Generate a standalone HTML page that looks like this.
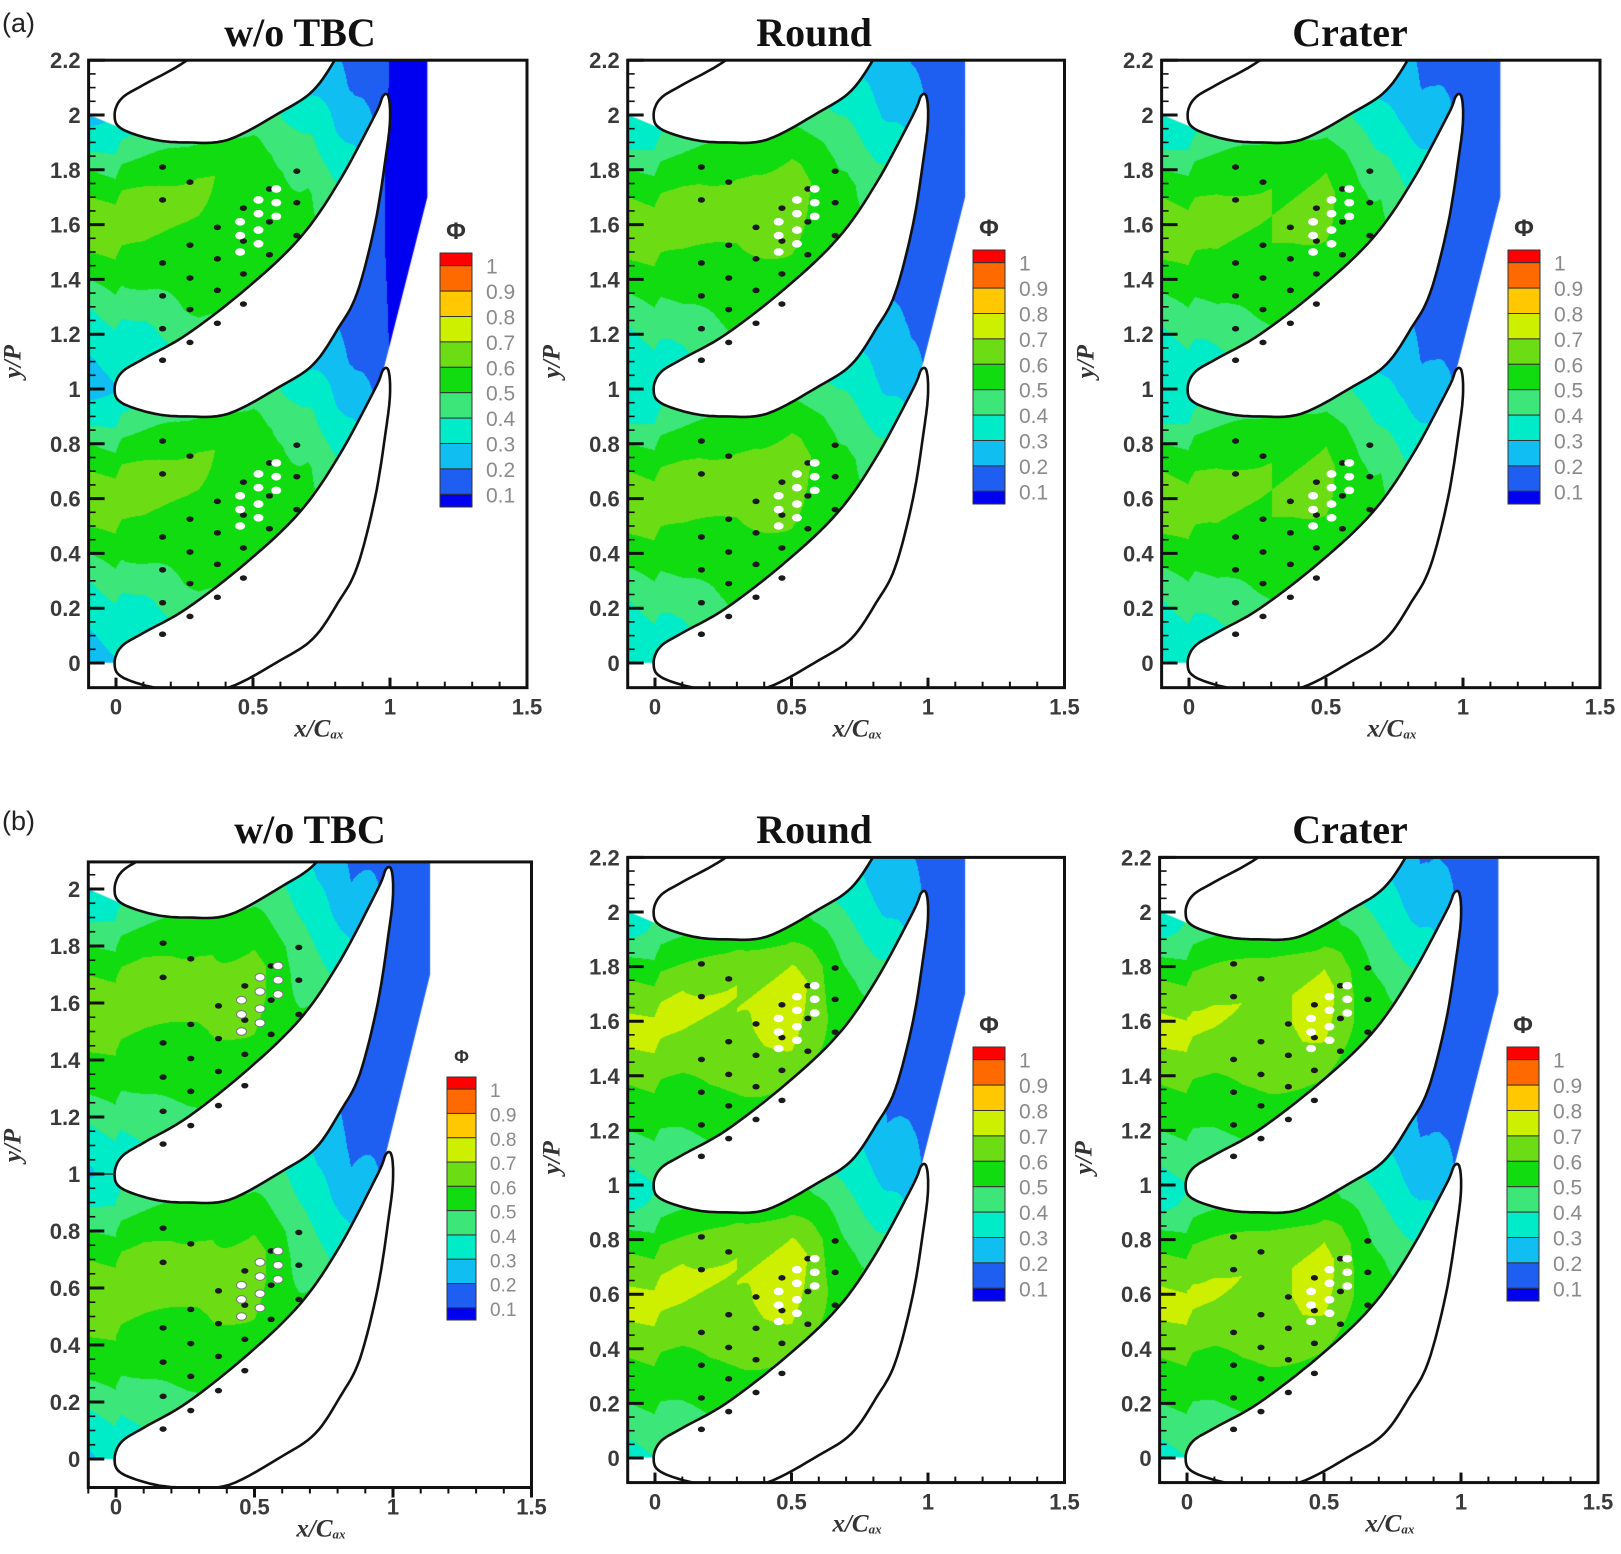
<!DOCTYPE html>
<html style="overflow:hidden"><head><meta charset="utf-8">
<style>
html,body{margin:0;overflow:hidden}
body{width:1621px;height:1554px;position:relative;background:#fff;font-family:"Liberation Sans",sans-serif}
canvas{position:absolute}
#ov{position:absolute;left:0;top:0}
#cv{position:absolute;left:0;top:0;width:0;height:0}
</style></head>
<body>
<div id="cv"></div>
<svg id="ov" width="1621" height="1554" xmlns="http://www.w3.org/2000/svg"></svg>
<script>
// ---- data ----
const XN=[-0.1,0.1,0.3,0.5,0.7,0.85,1.0,1.15];
const TN=[0,0.1,0.2,0.3,0.4,0.5,0.6,0.7,0.8,0.9];
const LEVELS=[0.1,0.2,0.3,0.4,0.5,0.6,0.7,0.8,0.9,1.0];
const LEVEL_LABELS=['1','0.9','0.8','0.7','0.6','0.5','0.4','0.3','0.2','0.1'];
const XTICKS=[0,0.5,1,1.5];
const YTICKS_A=[0,0.2,0.4,0.6,0.8,1,1.2,1.4,1.6,1.8,2,2.2];
const YTICKS_B1=[0,0.2,0.4,0.6,0.8,1,1.2,1.4,1.6,1.8,2];
const fieldA1=[[.26,.29,.33,.4,.5,.6,.7,.6,.5,.35],[.33,.37,.45,.55,.58,.65,.62,.55,.42,.35],[.48,.55,.57,.58,.6,.63,.55,.47,.45,.4],[.55,.57,.58,.58,.57,.53,.45,.4,.4,.4],[.53,.52,.47,.43,.36,.28,.3,.3,.3,.4],[.35,.28,.22,.19,.17,.16,.16,.16,.17,.25],[.09,.09,.09,.09,.09,.09,.09,.09,.09,.09],[.05,.05,.05,.05,.05,.05,.05,.05,.05,.05]];
const fieldA2=[[.3,.33,.38,.45,.55,.62,.66,.6,.5,.36],[.38,.42,.5,.56,.6,.64,.62,.55,.45,.38],[.52,.56,.58,.6,.62,.62,.56,.5,.45,.4],[.56,.6,.64,.68,.64,.56,.48,.42,.4,.4],[.55,.55,.5,.45,.4,.33,.3,.3,.3,.4],[.4,.33,.27,.24,.22,.2,.2,.2,.21,.3],[.17,.16,.15,.15,.15,.15,.15,.15,.15,.16],[.13,.13,.13,.13,.13,.13,.13,.13,.13,.13]];
const fieldA3=[[.3,.33,.38,.45,.55,.62,.65,.6,.5,.36],[.38,.42,.5,.56,.6,.63,.6,.55,.45,.38],[.5,.55,.57,.6,.6,.6,.55,.48,.45,.4],[.55,.58,.62,.64,.6,.52,.45,.4,.4,.4],[.52,.5,.45,.38,.33,.28,.3,.3,.3,.4],[.33,.27,.22,.19,.18,.17,.17,.17,.18,.27],[.15,.15,.15,.15,.15,.15,.15,.15,.15,.15],[.15,.15,.15,.15,.15,.15,.15,.15,.15,.15]];
const fieldB1=[[.28,.33,.42,.52,.58,.65,.66,.6,.5,.38],[.4,.45,.52,.56,.6,.66,.64,.56,.46,.4],[.5,.55,.58,.6,.62,.62,.56,.5,.45,.4],[.56,.6,.65,.66,.6,.54,.46,.4,.4,.4],[.5,.46,.42,.38,.33,.3,.3,.3,.3,.4],[.3,.25,.2,.18,.17,.16,.16,.16,.17,.25],[.15,.15,.15,.15,.15,.15,.15,.15,.15,.15],[.15,.15,.15,.15,.15,.15,.15,.15,.15,.15]];
const fieldB2=[[.35,.42,.5,.56,.62,.7,.72,.65,.55,.4],[.45,.5,.56,.6,.66,.73,.7,.6,.5,.42],[.56,.6,.64,.66,.7,.7,.62,.55,.5,.45],[.62,.7,.76,.8,.72,.6,.5,.45,.45,.45],[.58,.55,.5,.45,.4,.35,.35,.35,.35,.45],[.4,.33,.27,.23,.2,.19,.19,.19,.2,.3],[.16,.16,.16,.16,.16,.16,.16,.16,.16,.16],[.16,.16,.16,.16,.16,.16,.16,.16,.16,.16]];
const fieldB3=[[.35,.42,.5,.56,.62,.7,.72,.65,.55,.4],[.45,.5,.56,.6,.66,.72,.68,.6,.5,.42],[.55,.6,.64,.66,.7,.68,.6,.55,.5,.45],[.6,.68,.74,.76,.7,.58,.5,.45,.45,.45],[.56,.53,.48,.43,.38,.33,.33,.33,.33,.45],[.38,.31,.25,.21,.19,.18,.18,.18,.19,.28],[.16,.16,.16,.16,.16,.16,.16,.16,.16,.16],[.16,.16,.16,.16,.16,.16,.16,.16,.16,.16]];
const DOTS_X=[0.17,0.17,0.17,0.17,0.17,0.17,0.27,0.27,0.27,0.27,0.27,0.37,0.37,0.37,0.37,0.465,0.465,0.465,0.465,0.56,0.56,0.56,0.66,0.66,0.66];
const DOTS_Y=[0.81,0.69,0.46,0.34,0.22,0.105,0.755,0.525,0.405,0.29,0.17,0.59,0.475,0.36,0.24,0.66,0.54,0.42,0.31,0.73,0.61,0.49,0.795,0.68,0.56];
const HOLES_X=[0.453,0.453,0.453,0.52,0.52,0.52,0.52,0.585,0.585,0.585];
const HOLES_Y=[0.61,0.56,0.50,0.69,0.64,0.58,0.53,0.73,0.68,0.63];
// ---- geometry (blade profile, relative to nose) ----
const PRESS=[[-0.005,0],[0.02,0.06],[0.1,0.11],[0.26,0.2],[0.48,0.37],[0.67,0.55],[0.81,0.75],[0.945,1.0],[0.975,1.07]];
const SUCT=[[0.995,1.065],[1.0,0.98],[0.985,0.85],[0.945,0.6],[0.88,0.35],[0.81,0.22],[0.72,0.09],[0.6,0.01],[0.41,-0.09],[0.26,-0.1],[0.14,-0.09],[0.02,-0.05]];
const COLORS=['#0000f0','#1e5ef0','#10bef2','#00ecc8','#3ce678','#10dc10','#6cdc14','#ccf000','#ffc800','#ff6a00','#ff0000'];
const PANELS=[
 {id:'a1',title:'w/o TBC',field:fieldA1,x0:116,y0:663,ux:274,uy:274,ymax:2.2,ymin:-0.09,yt:YTICKS_A,tx:300,ty:46,lg:[440,253,32]},
 {id:'a2',title:'Round',field:fieldA2,x0:655,y0:663,ux:273,uy:274,ymax:2.2,ymin:-0.09,yt:YTICKS_A,tx:814,ty:46,lg:[973,250,32]},
 {id:'a3',title:'Crater',field:fieldA3,x0:1189,y0:663,ux:274,uy:274,ymax:2.2,ymin:-0.09,yt:YTICKS_A,tx:1350,ty:46,lg:[1508,250,32]},
 {id:'b1',title:'w/o TBC',field:fieldB1,x0:116,y0:1459,ux:277,uy:285,ymax:2.095,ymin:-0.1,yt:YTICKS_B1,tx:310,ty:843,lg:[447,1077,29],out:1},
 {id:'b2',title:'Round',field:fieldB2,x0:655,y0:1458,ux:273,uy:273,ymax:2.2,ymin:-0.09,yt:YTICKS_A,tx:814,ty:843,lg:[973,1047,32]},
 {id:'b3',title:'Crater',field:fieldB3,x0:1187,y0:1458,ux:274,uy:273,ymax:2.2,ymin:-0.09,yt:YTICKS_A,tx:1350,ty:843,lg:[1507,1047,32]}
];
function cfun(x){
  if(x<=0) return 0;
  if(x>=0.975) return 1.07+(x-0.975)*4;
  for(let i=0;i<PRESS.length-1;i++){const a=PRESS[i],b=PRESS[i+1];if(x>=a[0]&&x<=b[0]){return a[1]+(b[1]-a[1])*(x-a[0])/(b[0]-a[0]);}}
  return 0;
}
function fval(F,x,t){
  let i=0; if(x<=XN[0]){i=0;x=XN[0];} else if(x>=XN[XN.length-1]){i=XN.length-2;x=XN[XN.length-1];} else {while(x>XN[i+1])i++;}
  const fx=(x-XN[i])/(XN[i+1]-XN[i]);
  const tt=t*10; const j=Math.floor(tt)%10; const j2=(j+1)%10; const ft=tt-Math.floor(tt);
  const a=F[i][j]*(1-ft)+F[i][j2]*ft, b=F[i+1][j]*(1-ft)+F[i+1][j2]*ft;
  return a*(1-fx)+b*fx;
}
function hex(c){return [parseInt(c.substr(1,2),16),parseInt(c.substr(3,2),16),parseInt(c.substr(5,2),16)];}
const RGB=COLORS.map(hex);
function crs(pts,closed,n){
  const out=[];const N=pts.length;
  const g=i=>closed?pts[(i+N)%N]:pts[Math.max(0,Math.min(N-1,i))];
  const L=closed?N:N-1;
  for(let i=0;i<L;i++){const p0=g(i-1),p1=g(i),p2=g(i+1),p3=g(i+2);
    for(let s=0;s<n;s++){const t=s/n,t2=t*t,t3=t2*t;
      out.push([0.5*((2*p1[0])+(-p0[0]+p2[0])*t+(2*p0[0]-5*p1[0]+4*p2[0]-p3[0])*t2+(-p0[0]+3*p1[0]-3*p2[0]+p3[0])*t3),
                0.5*((2*p1[1])+(-p0[1]+p2[1])*t+(2*p0[1]-5*p1[1]+4*p2[1]-p3[1])*t2+(-p0[1]+3*p1[1]-3*p2[1]+p3[1])*t3)]);}}
  if(!closed)out.push(pts[N-1]);
  return out;
}
const BLADE=crs(PRESS.concat(SUCT),true,8);
const PRESS_S=crs(PRESS,false,8);
const SUCT_S=crs(SUCT,false,8);
const svg=document.getElementById('ov');const NS='http://www.w3.org/2000/svg';
function el(tag,attrs,parent){const e=document.createElementNS(NS,tag);for(const k in attrs)e.setAttribute(k,attrs[k]);(parent||svg).appendChild(e);return e;}
const cvDiv=document.getElementById('cv');

PANELS.forEach(P=>{
  const X=x=>P.x0+x*P.ux, Y=y=>P.y0-y*P.uy;
  const L=X(-0.1),R=X(1.5),T=Y(P.ymax),B=Y(P.ymin);
  const W=Math.round(R-L),H=Math.round(B-T);
  const cv=document.createElement('canvas');cv.width=W;cv.height=H;cv.style.left=L+'px';cv.style.top=T+'px';
  
  
  cvDiv.appendChild(cv);
  const off=document.createElement('canvas');off.width=W;off.height=H;const oc=off.getContext('2d');
  const img=oc.createImageData(W,H);
  for(let py=0;py<H;py++){const y=P.ymax-(py+0.5)/P.uy;
    for(let px=0;px<W;px++){const x=-0.1+(px+0.5)/P.ux;
      const c=cfun(x);let t=((y-c)%1+1)%1;const v=fval(P.field,x,t);
      let k=0;while(k<LEVELS.length&&v>=LEVELS[k])k++;const col=RGB[k];const o=(py*W+px)*4;
      img.data[o]=col[0];img.data[o+1]=col[1];img.data[o+2]=col[2];img.data[o+3]=255;}}
  oc.putImageData(img,0,0);
  const ctx=cv.getContext('2d');
  const cx=x=>(x+0.1)*P.ux, cy=y=>(P.ymax-y)*P.uy;
  const dom=[[-0.1,0]].concat(PRESS_S.map(p=>[p[0],p[1]]),[[1.135,1.7],[1.135,3.3]],SUCT_S.map(p=>[p[0],p[1]+2]),[[-0.1,2.0]]);
  ctx.beginPath();dom.forEach((p,i)=>{i?ctx.lineTo(cx(p[0]),cy(p[1])):ctx.moveTo(cx(p[0]),cy(p[1]));});ctx.closePath();ctx.clip();
  ctx.drawImage(off,0,0);
  const g=el('g',{});
  const cid='clip-'+P.id;
  const cp=el('clipPath',{id:cid},g);el('rect',{x:L,y:T,width:R-L,height:B-T},cp);
  const bg=el('g',{'clip-path':'url(#'+cid+')',},g);
  [0,1,2].forEach(k=>{
    const d=BLADE.map((p,i)=>(i?'L':'M')+X(p[0]).toFixed(1)+','+Y(p[1]+k).toFixed(1)).join('')+'Z';
    el('path',{d:d,fill:'#fff',stroke:'#111','stroke-width':2.6,},bg);
  });
  if(P.id==='b1') el('line',{x1:L,y1:Y(1),x2:X(0),y2:Y(1),stroke:'#333','stroke-width':1.5,},bg);
  [0,1].forEach(k=>{
    DOTS_X.forEach((dx,i)=>{el('ellipse',{cx:X(dx),cy:Y(DOTS_Y[i]+k),rx:3.6,ry:2.8,fill:'#1a1a1a',},bg);});
    HOLES_X.forEach((hx,i)=>{el('ellipse',{cx:X(hx),cy:Y(HOLES_Y[i]+k),rx:5,ry:3.8,fill:'#fff',stroke:P.id==='b1'?'#777':'none','stroke-width':1,},bg);});
  });
  el('rect',{x:L,y:T,width:R-L,height:B-T,fill:'none',stroke:'#111','stroke-width':3,},g);
  const dir=P.out?1:-1;
  for(let v=-0.1;v<=1.501;v+=0.1){const xx=X(v);const major=Math.abs(v*2-Math.round(v*2))<1e-6;
    el('line',{x1:xx,y1:B,x2:xx,y2:B+dir*(major?10:6),stroke:'#111','stroke-width':major?3:2,},g);}
  for(let v=0;v<=P.ymax+1e-6;v+=0.05){const yy=Y(v);const major=Math.abs(v*5-Math.round(v*5))<1e-6;
    el('line',{x1:L,y1:yy,x2:L+(major?16:7),y2:yy,stroke:'#111','stroke-width':major?3:1.6,},g);}
  XTICKS.forEach(v=>{const t=el('text',{x:X(v),y:B+27,'text-anchor':'middle','font-size':22,'font-weight':'bold',fill:'#3a3a3a','font-family':'Liberation Sans, sans-serif',},g);t.textContent=String(v);});
  P.yt.forEach(v=>{const t=el('text',{x:L-8,y:Y(v)+8,'text-anchor':'end','font-size':22,'font-weight':'bold',fill:'#3a3a3a','font-family':'Liberation Sans, sans-serif',},g);t.textContent=String(v);});
  const xt=el('text',{x:X(0.74),y:B+49,'text-anchor':'middle','font-size':25,'font-weight':'bold','font-style':'italic',fill:'#333','font-family':'Liberation Serif, serif',},g);
  xt.innerHTML='x/C<tspan font-size="13" dy="2">ax</tspan>';
  const ytx=L-68, yty=Y(1.1);
  const yt=el('text',{x:ytx,y:yty,'text-anchor':'middle','font-size':25,'font-weight':'bold','font-style':'italic',fill:'#333','font-family':'Liberation Serif, serif',transform:'rotate(-90 '+ytx+' '+yty+')',},g);
  yt.textContent='y/P';
  const tt=el('text',{x:P.tx,y:P.ty,'text-anchor':'middle','font-size':40,'font-weight':'bold',fill:'#111','font-family':'Liberation Serif, serif',},g);tt.textContent=P.title;
  const [lx,ly,lw]=P.lg;const bh=P.id==='b1'?24.3:25.4;
  const lgG=el('g',{},g);
  const phi=el('text',{x:lx+lw/2,y:ly-14,'text-anchor':'middle','font-size':P.id==='b1'?18:24,'font-weight':'bold',fill:'#333','font-family':'Liberation Sans, sans-serif',},lgG);phi.textContent='Φ';
  let yy=ly;
  for(let k=COLORS.length-1;k>=0;k--){const h=(k===0||k===COLORS.length-1)?bh/2:bh;
    el('rect',{x:lx,y:yy,width:lw,height:h,fill:COLORS[k],stroke:'#333','stroke-width':1,},lgG);yy+=h;}
  LEVEL_LABELS.forEach((s,i)=>{const t=el('text',{x:lx+lw+14,y:ly+bh/2+i*bh+8,'font-size':P.id==='b1'?19:21,fill:'#8a8a8a','font-family':'Liberation Sans, sans-serif',},lgG);t.textContent=s;});
});
const la=el('text',{x:2,y:32,'font-size':27,fill:'#222','font-family':'Liberation Sans, sans-serif',});la.textContent='(a)';
const lb=el('text',{x:2,y:830,'font-size':27,fill:'#222','font-family':'Liberation Sans, sans-serif',});lb.textContent='(b)';
</script>
</body></html>
